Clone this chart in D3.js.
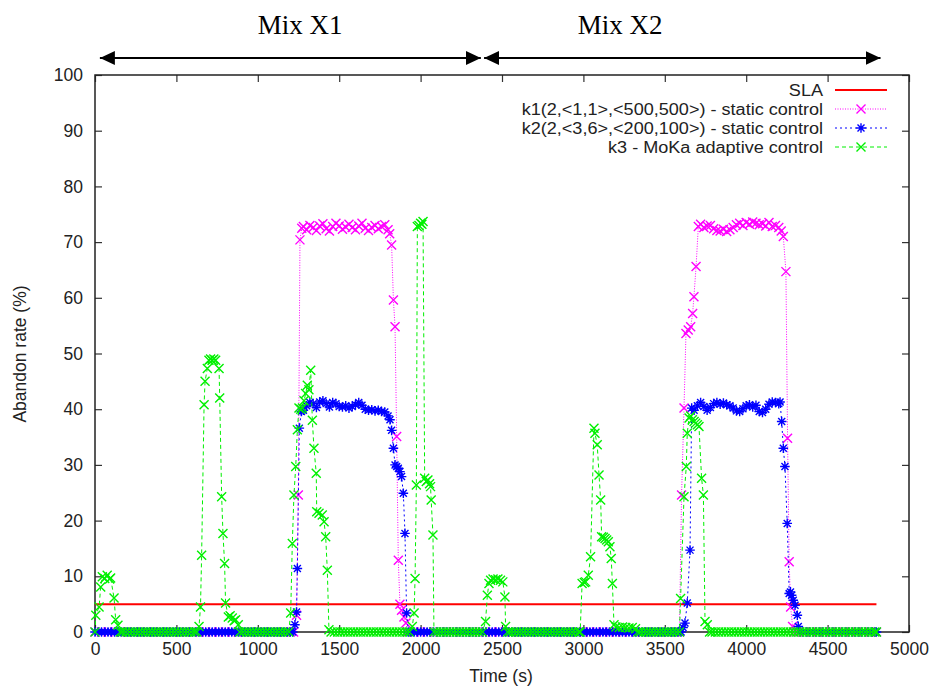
<!DOCTYPE html>
<html>
<head>
<meta charset="utf-8">
<script src="https://cdn.jsdelivr.net/npm/d3@7"></script>
<style>
  body { margin: 0; background: #fff; }
  svg { display: block; }
</style>
</head>
<body>
<div id="chart"></div>
<script>
// ---- data (time in s, abandon rate in %) ----
const xTicks = [0, 500, 1000, 1500, 2000, 2500, 3000, 3500, 4000, 4500, 5000];
const yTicks = [0, 10, 20, 30, 40, 50, 60, 70, 80, 90, 100];

const slaLevel = 5;
const slaRange = [0, 4800];

const mixLabels = ["Mix X1", "Mix X2"];
const mixLabelAt = [1260, 3225];
const mixRanges = [[30, 2370], [2390, 4825]];

const legendLabels = [
  "SLA",
  "k1(2,<1,1>,<500,500>) - static control",
  "k2(2,<3,6>,<200,100>) - static control",
  "k3 - MoKa adaptive control"
];

// k1: magenta, static control
const k1Zeros = [0, 40, 80, 120, 160, 200, 240, 280, 320, 360, 400, 440, 480, 520, 560, 600, 640, 680, 720, 760,
  800, 840, 880, 920, 960, 1000, 1040, 1080, 1120, 1160, 1200, 1220,
  1920, 1960, 2000, 2040, 2080, 2120, 2160, 2200, 2240, 2280, 2320, 2360, 2400, 2440, 2480, 2520, 2560, 2600,
  2640, 2680, 2720, 2760, 2800, 2840, 2880, 2920, 2960, 3000, 3040, 3080, 3120, 3160, 3200, 3240, 3280, 3320,
  3360, 3400, 3440, 3480, 3520, 3560, 3590,
  4295, 4320, 4360, 4400, 4440, 4480, 4520, 4560, 4600, 4640, 4680, 4720, 4760, 4800];
const k1Points = [
  [1238, 3], [1249, 24.6], [1259, 70.4], [1270, 72.5], [1280, 72.8], [1300, 72.2], [1320, 73.0], [1340, 72.6],
  [1360, 72.1], [1380, 72.9], [1400, 73.3], [1420, 72.4], [1440, 72.0], [1460, 72.8], [1480, 73.4], [1500, 72.9],
  [1520, 72.3], [1540, 72.7], [1560, 73.2], [1580, 72.6], [1600, 72.2], [1620, 72.9], [1640, 73.4], [1660, 72.5],
  [1680, 72.1], [1700, 72.6], [1720, 73.0], [1740, 72.4], [1760, 72.8], [1780, 73.1], [1800, 72.2], [1810, 71.5],
  [1822, 69.5], [1833, 59.6], [1843, 54.8], [1853, 35.1], [1863, 12.9], [1873, 5], [1883, 3.9], [1898, 2.7], [1910, 1.6],
  [3603, 24.6], [3618, 40.2], [3630, 53.6], [3644, 54.2], [3659, 54.8], [3671, 57.2], [3679, 60.2], [3692, 65.6],
  [3706, 72.8], [3720, 73.2], [3740, 72.6], [3760, 72.9], [3780, 73.0], [3800, 72.4], [3820, 72.1], [3840, 72.0],
  [3860, 72.3], [3880, 71.9], [3900, 72.2], [3920, 72.6], [3940, 73.1], [3960, 73.4], [3980, 73.0], [4000, 73.5],
  [4020, 73.2], [4040, 73.6], [4060, 73.4], [4080, 73.1], [4100, 73.3], [4120, 72.9], [4140, 73.5], [4160, 72.8],
  [4180, 73.0], [4200, 72.6], [4215, 72.0], [4228, 71], [4244, 64.7], [4254, 34.8], [4264, 12.6], [4273, 4.5], [4285, 1]
];

// k2: blue, static control
const k2Zeros = [0, 20, 40, 60, 80, 100, 120, 140, 160, 180, 200, 220, 240, 260, 280, 300, 320, 340, 360, 380,
  400, 420, 440, 460, 480, 500, 520, 540, 560, 580, 600, 620, 640, 660, 680, 700, 720, 740, 760, 780, 800, 820,
  840, 860, 880, 900, 920, 940, 960, 980, 1000, 1020, 1040, 1060, 1080, 1100, 1120, 1140, 1160, 1180, 1200, 1215,
  1925, 1940, 1960, 1980, 2000, 2020, 2040, 2060, 2080, 2100, 2120, 2140, 2160, 2180, 2200, 2220, 2240, 2260,
  2280, 2300, 2320, 2340, 2360, 2380, 2400, 2420, 2440, 2460, 2480, 2500, 2520, 2540, 2560, 2580, 2600, 2620,
  2640, 2660, 2680, 2700, 2720, 2740, 2760, 2780, 2800, 2820, 2840, 2860, 2880, 2900, 2920, 2940, 2960, 2980,
  3000, 3020, 3040, 3060, 3080, 3100, 3120, 3140, 3160, 3180, 3200, 3220, 3240, 3260, 3280, 3300, 3320, 3340,
  3360, 3380, 3400, 3420, 3440, 3460, 3480, 3500, 3520, 3540, 3560, 3580, 3600,
  4330, 4350, 4370, 4390, 4410, 4430, 4450, 4470, 4490, 4510, 4530, 4550, 4570, 4590, 4610, 4630, 4650, 4670,
  4690, 4710, 4730, 4750, 4770, 4790, 4800];
const k2Points = [
  [1228, 1.3], [1238, 3.6], [1243, 11.4], [1255, 36.6], [1268, 39.6], [1280, 39.8], [1300, 40.6], [1320, 41.2],
  [1340, 41.0], [1360, 40.3], [1380, 41.3], [1400, 41.5], [1420, 41.0], [1440, 40.4], [1460, 41.2], [1480, 41.0],
  [1500, 40.5], [1520, 40.4], [1540, 40.6], [1560, 40.2], [1580, 40.5], [1600, 40.8], [1620, 41.2], [1640, 40.7],
  [1660, 40.0], [1680, 39.8], [1700, 39.9], [1720, 39.7], [1740, 39.8], [1760, 39.6], [1780, 39.5], [1800, 38.8],
  [1812, 38.1], [1822, 36.2], [1833, 33], [1843, 30], [1853, 29.7], [1863, 29.4], [1873, 28.8], [1883, 27.9],
  [1894, 24.9], [1904, 17.7], [1914, 3.4],
  [3612, 0.8], [3624, 1.6], [3638, 5.2], [3655, 14.7], [3665, 40.2], [3680, 39.8], [3700, 40.6], [3720, 41.2],
  [3740, 40.5], [3760, 39.8], [3780, 40.3], [3800, 41.0], [3820, 41.2], [3840, 40.9], [3860, 41.1], [3880, 40.8],
  [3900, 40.6], [3920, 40.2], [3940, 39.7], [3960, 39.6], [3980, 40.1], [4000, 40.6], [4020, 40.8], [4040, 40.4],
  [4060, 40.7], [4080, 39.6], [4100, 39.4], [4120, 40.0], [4140, 40.9], [4160, 41.3], [4180, 41.2], [4200, 41.0],
  [4208, 41.3], [4218, 37.8], [4228, 33], [4238, 29.7], [4252, 19.5], [4264, 6.9], [4272, 7.2], [4279, 6.6],
  [4289, 5.7], [4300, 4.8], [4314, 3.0], [4320, 1]
];

// k3: green, MoKa adaptive control
const k3Zeros = [0, 155, 170, 190, 210, 230, 250, 270, 290, 310, 330, 350, 370, 390, 410, 430, 450, 470, 490,
  510, 530, 550, 570, 590, 610, 625,
  890, 910, 930, 950, 970, 990, 1010, 1030, 1050, 1070, 1090, 1110, 1130, 1150, 1170, 1190,
  1450, 1470, 1490, 1510, 1530, 1550, 1570, 1590, 1610, 1630, 1650, 1670, 1690, 1710, 1730, 1750, 1770, 1790,
  1810, 1830, 1850, 1870, 1890, 1910, 1930,
  2082, 2100, 2120, 2140, 2160, 2180, 2200, 2220, 2240, 2260, 2280, 2300, 2320, 2340, 2360, 2380,
  2535, 2550, 2570, 2590, 2610, 2630, 2650, 2670, 2690, 2710, 2730, 2750, 2770, 2790, 2810, 2830, 2850, 2870,
  2890, 2910, 2930, 2950, 2970, 2980,
  3335, 3350, 3370, 3390, 3410, 3430, 3450, 3470, 3490, 3510, 3530, 3550, 3570, 3590,
  3775, 3790, 3810, 3830, 3850, 3870, 3890, 3910, 3930, 3950, 3970, 3990, 4010, 4030, 4050, 4070, 4090, 4110,
  4130, 4150, 4170, 4190, 4210, 4230, 4250, 4270, 4290, 4310, 4330, 4350, 4370, 4390, 4410, 4430, 4450, 4470,
  4490, 4510, 4530, 4550, 4570, 4590, 4610, 4630, 4650, 4670, 4690, 4710, 4730, 4750, 4770, 4790, 4800];
const k3Points = [
  [5, 3.0], [25, 4.5], [35, 8.1], [45, 9.9], [60, 9.6], [75, 10.2], [90, 9.5], [96, 9.7], [117, 6.1], [127, 2.2], [141, 1.2],
  [639, 1], [648, 4.5], [655, 13.8], [670, 40.8], [676, 45], [690, 47.3], [700, 48.8], [710, 49], [720, 48.8],
  [730, 49], [741, 48.8], [762, 47.3], [766, 42], [778, 24.3], [786, 17.7], [796, 12.3], [802, 5.2], [819, 2.7],
  [830, 2.9], [843, 2.5], [855, 2.0], [864, 2.2], [880, 1.3],
  [1202, 3.4], [1212, 15.9], [1222, 24.6], [1233, 29.7], [1243, 36.3], [1253, 40.2], [1264, 40], [1274, 40.2],
  [1284, 41.5], [1294, 42.8], [1304, 44.3], [1314, 43.5], [1325, 47], [1335, 38], [1345, 33], [1359, 28.5],
  [1362, 21.6], [1376, 21.3], [1396, 21], [1407, 19.8], [1417, 17.1], [1427, 11.1], [1437, 0.4],
  [1949, 1], [1960, 3.4], [1966, 9.6], [1974, 26.4], [1980, 72.8], [1990, 73.0], [2000, 73.4], [2008, 73.2],
  [2015, 73.7], [2025, 27.6], [2035, 27.0], [2045, 27.3], [2055, 26.6], [2061, 26.1], [2065, 23.7], [2076, 17.4],
  [2399, 1.9], [2410, 6.6], [2420, 8.7], [2430, 9.3], [2445, 9.5], [2461, 9.4], [2475, 9.5], [2491, 9.3],
  [2505, 9.0], [2518, 6.3], [2522, 1],
  [2992, 8.7], [3006, 8.9], [3014, 9.0], [3030, 10.2], [3044, 13.5], [3065, 36.6], [3071, 35.7], [3085, 33.6],
  [3096, 28.2], [3106, 23.7], [3112, 17.1], [3123, 17.0], [3133, 16.8], [3143, 16.5], [3153, 16.2], [3163, 15.3],
  [3171, 13.2], [3178, 8.7], [3188, 1.3], [3200, 0.9], [3220, 0.8], [3240, 0.9], [3260, 0.8], [3280, 0.7],
  [3300, 0.8], [3320, 0.6],
  [3597, 6.0], [3618, 24.3], [3632, 29.7], [3638, 35.7], [3649, 38.4], [3659, 38.8], [3669, 38.1], [3680, 37.8],
  [3690, 37.5], [3700, 37.2], [3710, 36.9], [3726, 27.6], [3737, 24.6], [3747, 1.9], [3761, 1.3]
];

// merge the zero runs with the non-zero points
function buildSeries(zeros, points) {
  return zeros.map(t => [t, 0]).concat(points).sort((a, b) => a[0] - b[0]);
}

const series = [
  { name: legendLabels[1], color: "#ff00ff", dash: "1,1.5", marker: "x", data: buildSeries(k1Zeros, k1Points) },
  { name: legendLabels[2], color: "#0000ff", dash: "2,3", marker: "star", data: buildSeries(k2Zeros, k2Points) },
  { name: legendLabels[3], color: "#00f000", dash: "4,3", marker: "x", data: buildSeries(k3Zeros, k3Points) }
];

// ---- layout ----
const width = 933;
const height = 688;
const area = { left: 95, right: 909, top: 75, bottom: 632 };
const sans = '"Liberation Sans", Arial, sans-serif';
const fontSize = '17.5px';

const svg = d3.select('#chart')
  .append('svg')
  .attr('width', width)
  .attr('height', height);

svg.append('rect').attr('width', width).attr('height', height).attr('fill', '#fff');

const xScale = d3.scaleLinear().domain([0, 5000]).range([area.left, area.right]);
const yScale = d3.scaleLinear().domain([0, 100]).range([area.bottom, area.top]);

// marker paths
const markerPath = {
  x: "M-4.5,-4.5L4.5,4.5M-4.5,4.5L4.5,-4.5",
  star: "M-4.8,0L4.8,0M0,-4.8L0,4.8M-3.5,-3.5L3.5,3.5M-3.5,3.5L3.5,-3.5"
};

// ticks (inside on all four sides, like gnuplot mirror ticks)
const tickLen = 7;
const fmt = d3.format('d');
const axes = svg.append('g').attr('class', 'axes');

axes.append('g')
  .attr('transform', `translate(0, ${area.bottom})`)
  .call(d3.axisBottom(xScale).tickValues(xTicks).tickFormat(fmt).tickSizeInner(-tickLen).tickSizeOuter(0).tickPadding(11))
  .call(g => g.select('.domain').remove());

axes.append('g')
  .attr('transform', `translate(0, ${area.top})`)
  .call(d3.axisTop(xScale).tickValues(xTicks).tickSizeInner(-tickLen).tickSizeOuter(0).tickFormat(''))
  .call(g => g.select('.domain').remove());

axes.append('g')
  .attr('transform', `translate(${area.left}, 0)`)
  .call(d3.axisLeft(yScale).tickValues(yTicks).tickFormat(fmt).tickSizeInner(-tickLen).tickSizeOuter(0).tickPadding(12))
  .call(g => g.select('.domain').remove());

axes.append('g')
  .attr('transform', `translate(${area.right}, 0)`)
  .call(d3.axisRight(yScale).tickValues(yTicks).tickSizeInner(-tickLen).tickSizeOuter(0).tickFormat(''))
  .call(g => g.select('.domain').remove());

axes.selectAll('.tick line').attr('stroke', '#333').attr('stroke-width', 1.2);
axes.selectAll('.tick text')
  .attr('fill', '#222')
  .style('font-family', sans)
  .style('font-size', fontSize);

// border
svg.append('rect')
  .attr('x', area.left)
  .attr('y', area.top)
  .attr('width', area.right - area.left)
  .attr('height', area.bottom - area.top)
  .attr('fill', 'none')
  .attr('stroke', '#222')
  .attr('stroke-width', 1.5);

// axis titles
svg.append('text')
  .attr('x', 501)
  .attr('y', 682)
  .attr('text-anchor', 'middle')
  .style('font-family', sans)
  .style('font-size', fontSize)
  .attr('fill', '#222')
  .text('Time (s)');

svg.append('text')
  .attr('transform', `translate(26, 354) rotate(-90)`)
  .attr('text-anchor', 'middle')
  .style('font-family', sans)
  .style('font-size', fontSize)
  .attr('fill', '#222')
  .text('Abandon rate (%)');

// SLA line
svg.append('line')
  .attr('x1', xScale(slaRange[0]))
  .attr('x2', xScale(slaRange[1]))
  .attr('y1', yScale(slaLevel))
  .attr('y2', yScale(slaLevel))
  .attr('stroke', '#ff0000')
  .attr('stroke-width', 2);

// series
const line = d3.line().x(d => xScale(d[0])).y(d => yScale(d[1]));

series.forEach(s => {
  const g = svg.append('g');
  g.append('path')
    .datum(s.data)
    .attr('d', line)
    .attr('fill', 'none')
    .attr('stroke', s.color)
    .attr('stroke-width', 1)
    .attr('stroke-dasharray', s.dash);

  g.selectAll('path.pt')
    .data(s.data)
    .join('path')
    .attr('class', 'pt')
    .attr('d', markerPath[s.marker])
    .attr('transform', d => `translate(${xScale(d[0])}, ${yScale(d[1])})`)
    .attr('fill', 'none')
    .attr('stroke', s.color)
    .attr('stroke-width', 1.4);
});

// legend (text is a touch wider than tall in the original, hence the x stretch)
const legend = svg.append('g').attr('class', 'legend');
const legendY = [90, 109, 128, 147];
const legendStyles = [{ color: "#ff0000", dash: null, marker: null, width: 2 }]
  .concat(series.map(s => ({ color: s.color, dash: s.dash, marker: s.marker, width: 1 })));

legendLabels.forEach((label, i) => {
  const y = legendY[i];
  const st = legendStyles[i];
  legend.append('text')
    .attr('transform', `translate(823, ${y + 5.5}) scale(1.13, 1)`)
    .attr('text-anchor', 'end')
    .style('font-family', sans)
    .style('font-size', '16px')
    .attr('fill', '#222')
    .text(label);
  legend.append('line')
    .attr('x1', 835).attr('x2', 887)
    .attr('y1', y).attr('y2', y)
    .attr('stroke', st.color)
    .attr('stroke-width', st.width)
    .attr('stroke-dasharray', st.dash);
  if (st.marker) {
    legend.append('path')
      .attr('d', markerPath[st.marker])
      .attr('transform', `translate(861, ${y})`)
      .attr('fill', 'none')
      .attr('stroke', st.color)
      .attr('stroke-width', 1.4);
  }
});

// Mix X1 / Mix X2 arrows
const defs = svg.append('defs');
defs.append('marker')
  .attr('id', 'head')
  .attr('viewBox', '0 0 15 14')
  .attr('refX', 15)
  .attr('refY', 7)
  .attr('markerWidth', 15)
  .attr('markerHeight', 14)
  .attr('markerUnits', 'userSpaceOnUse')
  .attr('orient', 'auto-start-reverse')
  .append('path')
  .attr('d', 'M0,0L15,7L0,14Z')
  .attr('fill', '#000');

const arrowY = 58;
mixRanges.forEach((r, i) => {
  svg.append('line')
    .attr('x1', xScale(r[0]))
    .attr('x2', xScale(r[1]))
    .attr('y1', arrowY)
    .attr('y2', arrowY)
    .attr('stroke', '#000')
    .attr('stroke-width', 2.2)
    .attr('marker-start', 'url(#head)')
    .attr('marker-end', 'url(#head)');
  svg.append('text')
    .attr('x', xScale(mixLabelAt[i]))
    .attr('y', 34)
    .attr('text-anchor', 'middle')
    .style('font-family', '"Liberation Serif", "Times New Roman", serif')
    .style('font-size', '27px')
    .attr('fill', '#000')
    .text(mixLabels[i]);
});
</script>
</body>
</html>
